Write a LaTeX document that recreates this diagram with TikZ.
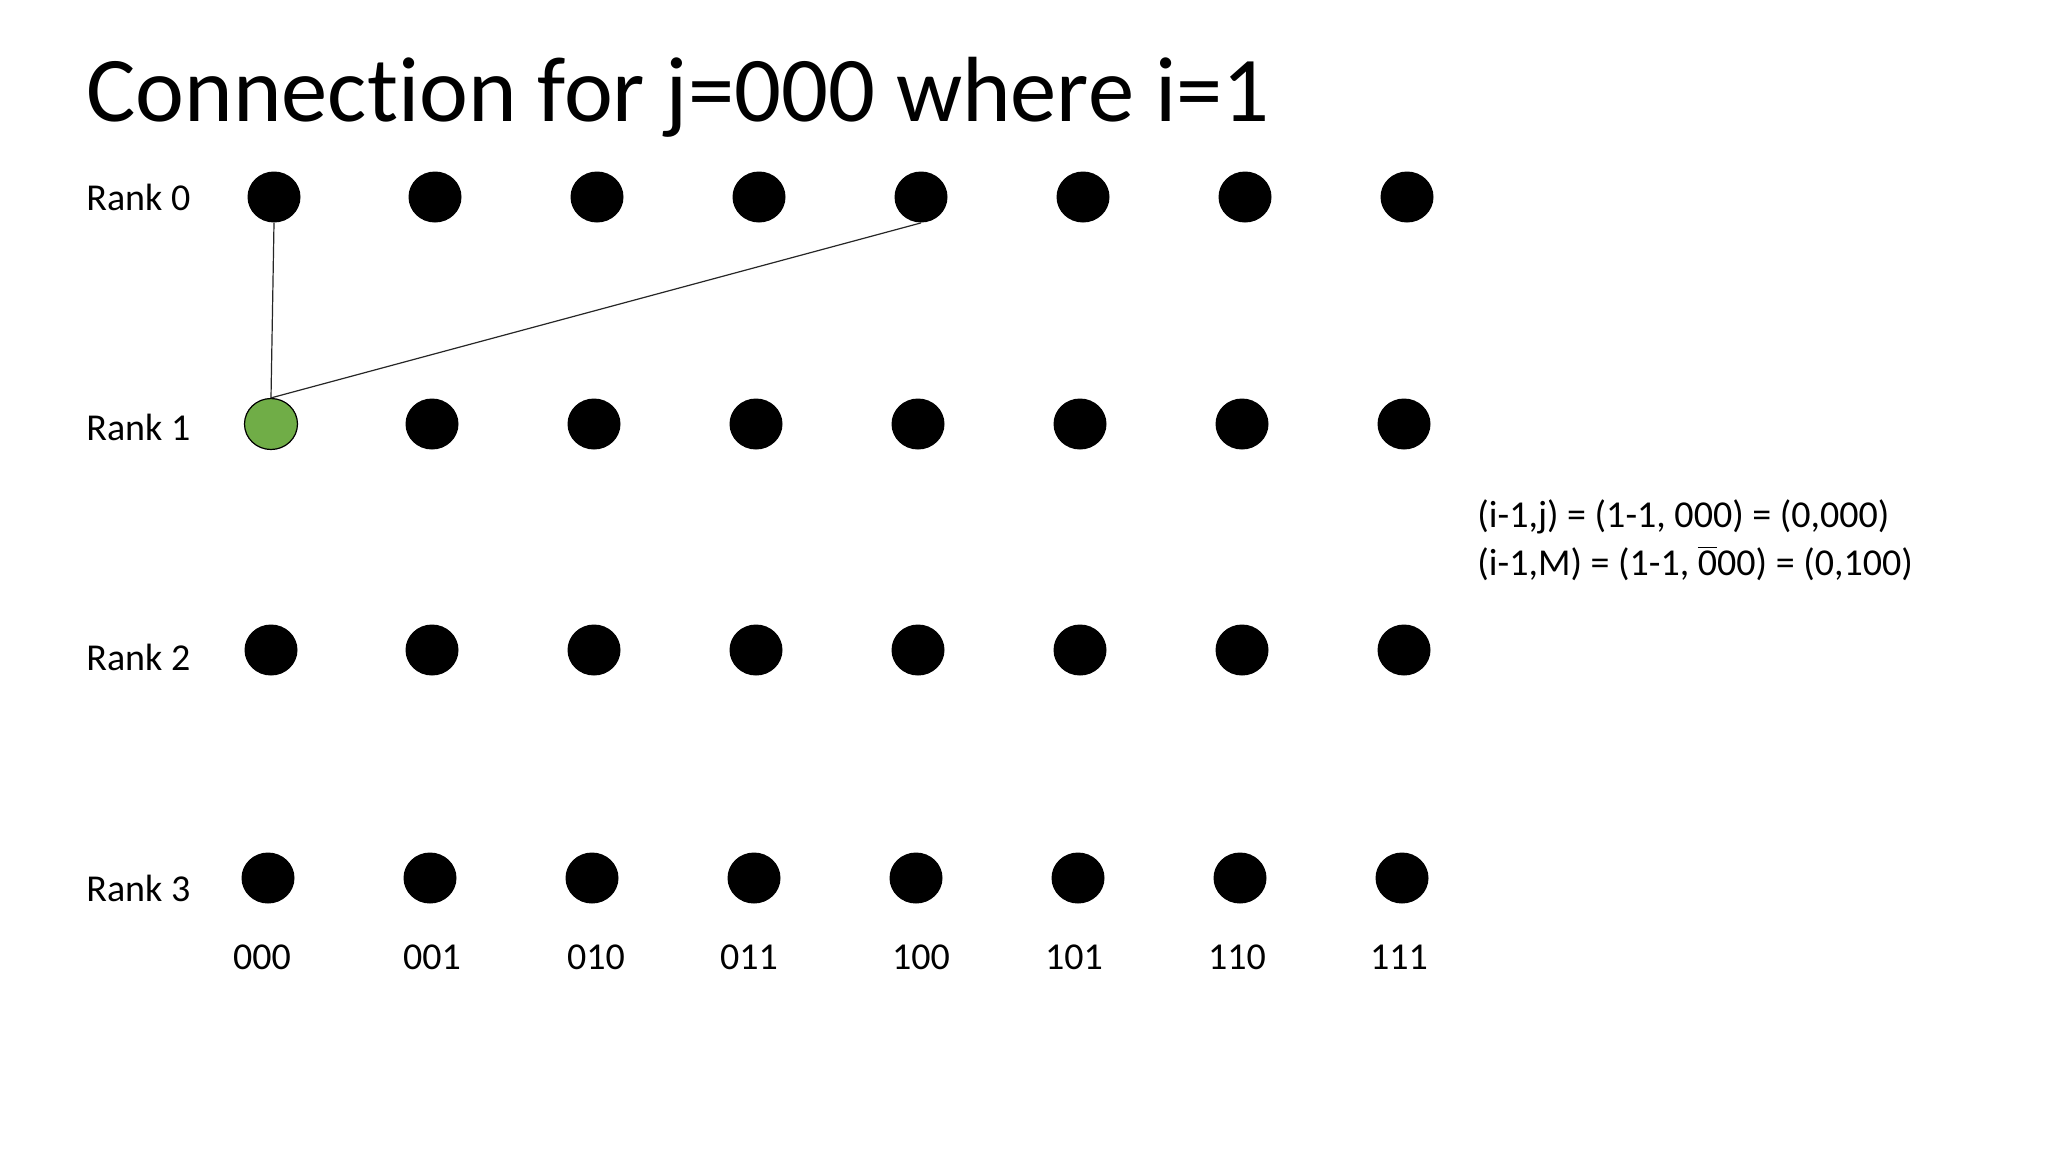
\documentclass[tikz,border=0pt]{standalone}
\usepackage{fontspec}
\setmainfont[RawFeature=-liga]{Carlito}
\definecolor{nodegreen}{HTML}{70AD47}
\begin{document}
\begin{tikzpicture}[x=0.5pt,y=-0.5pt,
  dot/.style={ellipse,draw=none,fill=black,minimum width=26.5pt,minimum height=25.5pt,inner sep=0pt},
  greendot/.style={ellipse,draw=black,line width=0.6pt,fill=nodegreen,minimum width=26.5pt,minimum height=25.5pt,inner sep=0pt},
  lbl/.style={font=\fontsize{19}{23}\selectfont,inner sep=0pt},
  conn/.style={line width=0.6pt,draw=black!85}]
\useasboundingbox[fill=white] (0,0) rectangle (2048,1152);
\usetikzlibrary{shapes.geometric}
\node[anchor=base west,inner sep=0pt,font=\fontsize{46.3}{56}\selectfont] (title) at (86,121) {Connection for j=000 where i=1};
% rank labels
\node[lbl,anchor=west] (rk0) at (86,197) {Rank 0};
\node[lbl,anchor=west] (rk1) at (86,427) {Rank 1};
\node[lbl,anchor=west] (rk2) at (86,657) {Rank 2};
\node[lbl,anchor=west] (rk3) at (86,888) {Rank 3};
% rank 0
\foreach \i/\x in {0/274,1/435,2/597,3/759,4/921,5/1083,6/1245,7/1407}
  \node[dot] (r0c\i) at (\x,197) {};
% rank 1
\node[greendot] (g) at (271,424) {};
\foreach \i/\x in {1/432,2/594,3/756,4/918,5/1080,6/1242,7/1404}
  \node[dot] (r1c\i) at (\x,424) {};
% rank 2
\foreach \i/\x in {0/271,1/432,2/594,3/756,4/918,5/1080,6/1242,7/1404}
  \node[dot] (r2c\i) at (\x,650) {};
% rank 3
\foreach \i/\x in {0/268,1/430,2/592,3/754,4/916,5/1078,6/1240,7/1402}
  \node[dot] (r3c\i) at (\x,878) {};
% bit labels
\foreach \t/\x in {000/262,001/432,010/596,011/749,100/921,101/1074,110/1237,111/1399}
  \node[lbl] (b\t) at (\x,957) {\t};
% connectors
\draw[conn] (r0c0.south) -- (g.north);
\draw[conn] (r0c4.south) -- (g.north);
% equations
\node[lbl,anchor=base west] (eq1) at (1477,527) {(i-1,j) = (1-1, 000) = (0,000)};
\node[lbl,anchor=base west] (eq2) at (1477,575) {(i-1,M) = (1-1, $\overline{\mbox{0}}$00) = (0,100)};
\end{tikzpicture}
\end{document}
